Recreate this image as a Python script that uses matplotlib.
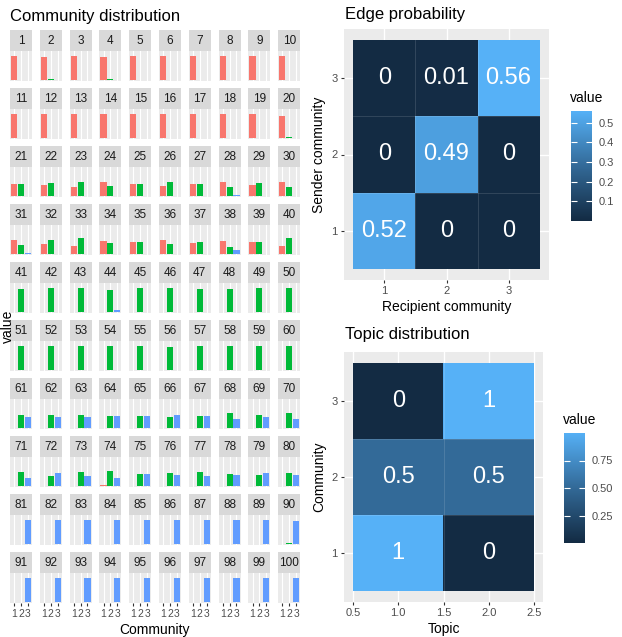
import numpy as np
import matplotlib
matplotlib.use("Agg")
import matplotlib.pyplot as plt
from matplotlib.colors import LinearSegmentedColormap

plt.rcParams['font.family'] = ['Liberation Sans', 'DejaVu Sans']

# community membership per node (red = 1, green = 2, blue = 3)
comm1 = [1.00, 0.96, 1.00, 0.95, 1.00, 1.00, 1.00, 1.00, 0.98, 1.00,
         1.00, 1.00, 1.00, 1.00, 1.00, 1.00, 1.00, 1.00, 0.98, 0.93,
         0.48, 0.45, 0.38, 0.57, 0.50, 0.40, 0.50, 0.60, 0.47, 0.60,
         0.58, 0.42, 0.32, 0.52, 0.51, 0.57, 0.47, 0.55, 0.49, 0.33,
         0.02, 0.00, 0.01, 0.00, 0.00, 0.00, 0.00, 0.00, 0.00, 0.00,
         0.01, 0.00, 0.02, 0.01, 0.00, 0.00, 0.00, 0.00, 0.01, 0.00,
         0.00, 0.02, 0.00, 0.00, 0.01, 0.02, 0.00, 0.00, 0.00, 0.00,
         0.00, 0.02, 0.00, 0.03, 0.00, 0.00, 0.00, 0.02, 0.00, 0.00,
         0.00, 0.00, 0.02, 0.01, 0.00, 0.00, 0.00, 0.00, 0.00, 0.00,
         0.00, 0.00, 0.00, 0.00, 0.00, 0.00, 0.00, 0.00, 0.00, 0.00]
comm2 = [0.00, 0.04, 0.00, 0.04, 0.00, 0.00, 0.00, 0.00, 0.00, 0.00,
         0.00, 0.00, 0.00, 0.00, 0.00, 0.00, 0.00, 0.00, 0.00, 0.06,
         0.50, 0.54, 0.60, 0.42, 0.50, 0.57, 0.50, 0.36, 0.52, 0.39,
         0.36, 0.57, 0.66, 0.46, 0.48, 0.42, 0.51, 0.28, 0.49, 0.66,
         0.97, 1.00, 0.99, 0.90, 0.99, 1.00, 0.97, 0.97, 1.00, 1.00,
         0.99, 1.00, 0.98, 0.98, 1.00, 0.97, 1.00, 1.00, 0.99, 1.00,
         0.55, 0.52, 0.53, 0.50, 0.48, 0.45, 0.51, 0.62, 0.53, 0.62,
         0.60, 0.40, 0.58, 0.62, 0.50, 0.55, 0.57, 0.50, 0.44, 0.52,
         0.00, 0.00, 0.00, 0.00, 0.00, 0.00, 0.00, 0.01, 0.00, 0.04,
         0.00, 0.00, 0.00, 0.00, 0.00, 0.00, 0.00, 0.00, 0.00, 0.02]
comm3 = [0.00, 0.00, 0.00, 0.01, 0.00, 0.00, 0.01, 0.00, 0.02, 0.00,
         0.00, 0.00, 0.00, 0.01, 0.00, 0.00, 0.01, 0.00, 0.02, 0.01,
         0.00, 0.00, 0.00, 0.00, 0.00, 0.00, 0.00, 0.03, 0.00, 0.00,
         0.05, 0.00, 0.01, 0.00, 0.01, 0.00, 0.02, 0.17, 0.00, 0.00,
         0.00, 0.00, 0.00, 0.09, 0.01, 0.00, 0.02, 0.02, 0.00, 0.00,
         0.00, 0.00, 0.00, 0.00, 0.00, 0.02, 0.00, 0.00, 0.00, 0.00,
         0.45, 0.46, 0.46, 0.49, 0.51, 0.52, 0.49, 0.37, 0.46, 0.37,
         0.35, 0.55, 0.40, 0.33, 0.49, 0.44, 0.42, 0.47, 0.54, 0.46,
         1.00, 1.00, 0.98, 0.99, 1.00, 1.00, 1.00, 0.99, 1.00, 0.95,
         1.00, 1.00, 1.00, 1.00, 1.00, 1.00, 1.00, 1.00, 1.00, 0.98]
communities = [1, 2, 3]
bar_colors = ["#F8766D", "#00BA38", "#619CFF"]

# edge probability, rows = sender 1..3, cols = recipient 1..3
edge_prob = [[0.52, 0.00, 0.00],
             [0.00, 0.49, 0.00],
             [0.00, 0.01, 0.56]]
edge_labels = [["0.52", "0", "0"],
               ["0", "0.49", "0"],
               ["0", "0.01", "0.56"]]

# topic distribution, rows = community 1..3, cols = topic 1..2
topic_prob = [[1.0, 0.0],
              [0.5, 0.5],
              [0.0, 1.0]]
topic_labels = [["1", "0"],
                ["0.5", "0.5"],
                ["0", "1"]]

W, H = 622, 637
fig = plt.figure(figsize=(W / 100, H / 100), dpi=100)


def px_axes(x0, y0, x1, y1):
    return fig.add_axes([x0 / W, 1 - y1 / H, (x1 - x0) / W, (y1 - y0) / H])


cmap = LinearSegmentedColormap.from_list("gg", ["#132B43", "#336A98", "#56B1F7"])
GREY_BG = "#EBEBEB"
TICK_COL = "#4D4D4D"

# ---- left: community distribution facets ----
fig.text(10 / W, 1 - 17 / H, "Community distribution", fontsize=12, va="center", ha="left")
fig.text(8 / W, 1 - 326 / H, "value", fontsize=10, rotation=90, va="center", ha="center")
fig.text(155 / W, 1 - 630 / H, "Community", fontsize=10, va="center", ha="center")

vals = np.array([comm1, comm2, comm3]).T
for i in range(100):
    r, c = divmod(i, 10)
    x0 = 10 + c * 29.8
    top = 30 + r * 58
    sax = px_axes(x0, top, x0 + 22, top + 21)
    sax.set_facecolor("#D9D9D9")
    sax.set_xticks([])
    sax.set_yticks([])
    for s in sax.spines.values():
        s.set_visible(False)
    sax.text(0.5, 0.5, str(i + 1), fontsize=8.5, color="#1A1A1A",
             ha="center", va="center", transform=sax.transAxes)

    ax = px_axes(x0, top + 21, x0 + 22, top + 51)
    ax.set_facecolor(GREY_BG)
    for x in communities:
        ax.axvline(x, color="white", lw=0.8, zorder=0)
    ax.bar(communities, vals[i], width=0.9, color=bar_colors, zorder=2)
    ax.set_xlim(0.4, 3.6)
    ax.set_ylim(-0.04, 1.2)
    ax.set_yticks([])
    for s in ax.spines.values():
        s.set_visible(False)
    if r == 9:
        ax.set_xticks(communities)
        ax.set_xticklabels([str(k) for k in communities])
        ax.tick_params(axis="x", length=2.5, width=0.8, color="#333333",
                       labelsize=7.5, labelcolor=TICK_COL, pad=1.5)
    else:
        ax.set_xticks([])


def heatmap(ax, data, labels, xlim, ylim, xticks, xticklabels):
    data = np.array(data)
    nrow, ncol = data.shape
    ax.set_facecolor(GREY_BG)
    for x in xticks:
        ax.axvline(x, color="white", lw=1.0, zorder=0)
    for y in range(1, nrow + 1):
        ax.axhline(y, color="white", lw=1.0, zorder=0)
    ax.imshow(data, cmap=cmap, origin="lower", aspect="auto",
              extent=[0.5, ncol + 0.5, 0.5, nrow + 0.5], zorder=1,
              vmin=data.min(), vmax=data.max())
    for k in range(1, ncol):
        ax.axvline(k + 0.5, ymin=(0.5 - ylim[0]) / (ylim[1] - ylim[0]),
                   ymax=(nrow + 0.5 - ylim[0]) / (ylim[1] - ylim[0]),
                   color="white", alpha=0.15, lw=0.6, zorder=2)
    for k in range(1, nrow):
        ax.axhline(k + 0.5, xmin=(0.5 - xlim[0]) / (xlim[1] - xlim[0]),
                   xmax=(ncol + 0.5 - xlim[0]) / (xlim[1] - xlim[0]),
                   color="white", alpha=0.15, lw=0.6, zorder=2)
    for rr in range(nrow):
        for cc in range(ncol):
            ax.text(cc + 1, rr + 1, labels[rr][cc], color="white", fontsize=17,
                    ha="center", va="center", zorder=3)
    ax.set_xlim(*xlim)
    ax.set_ylim(*ylim)
    ax.set_xticks(xticks)
    ax.set_xticklabels(xticklabels)
    ax.set_yticks(range(1, nrow + 1))
    ax.set_yticklabels([str(k) for k in range(1, nrow + 1)])
    ax.tick_params(length=2.5, width=0.8, color="#333333", labelsize=8,
                   labelcolor=TICK_COL, pad=2)
    for s in ax.spines.values():
        s.set_visible(False)


def colorbar(cax, vmin, vmax, ticks, ticklabels):
    grad = np.linspace(vmin, vmax, 256).reshape(-1, 1)
    cax.imshow(grad, cmap=cmap, origin="lower", aspect="auto",
               extent=[0, 1, vmin, vmax])
    cax.set_xlim(0, 1)
    cax.set_ylim(vmin, vmax)
    cax.set_xticks([])
    cax.yaxis.tick_right()
    cax.set_yticks(ticks)
    cax.set_yticklabels(ticklabels)
    cax.tick_params(axis="y", direction="in", length=4, width=0.8, color="white",
                    left=True, right=True, labelsize=8, labelcolor=TICK_COL, pad=5)
    for s in cax.spines.values():
        s.set_visible(False)


# ---- top right: edge probability ----
fig.text(345 / W, 1 - 15 / H, "Edge probability", fontsize=12, va="center", ha="left")
ax1 = px_axes(344, 29, 549, 280)
heatmap(ax1, edge_prob, edge_labels, (0.35, 3.65), (0.35, 3.65), [1, 2, 3], ["1", "2", "3"])
ax1.set_xlabel("Recipient community", fontsize=10, labelpad=3)
ax1.set_ylabel("Sender community", fontsize=10, labelpad=4)
fig.text(570 / W, 1 - 98 / H, "value", fontsize=10, va="center", ha="left")
cax1 = px_axes(571, 111, 592, 221)
colorbar(cax1, 0.0, 0.56, [0.1, 0.2, 0.3, 0.4, 0.5], ["0.1", "0.2", "0.3", "0.4", "0.5"])

# ---- bottom right: topic distribution ----
fig.text(345 / W, 1 - 335 / H, "Topic distribution", fontsize=12, va="center", ha="left")
ax2 = px_axes(344, 352, 543, 602)
heatmap(ax2, topic_prob, topic_labels, (0.4, 2.6), (0.35, 3.65),
        [0.5, 1.0, 1.5, 2.0, 2.5], ["0.5", "1.0", "1.5", "2.0", "2.5"])
ax2.set_xlabel("Topic", fontsize=10, labelpad=3)
ax2.set_ylabel("Community", fontsize=10, labelpad=4)
fig.text(563 / W, 1 - 420 / H, "value", fontsize=10, va="center", ha="left")
cax2 = px_axes(564, 433, 585, 543)
colorbar(cax2, 0.0, 1.0, [0.25, 0.5, 0.75], ["0.25", "0.50", "0.75"])

fig.savefig("out.png", dpi=100, facecolor="white")
